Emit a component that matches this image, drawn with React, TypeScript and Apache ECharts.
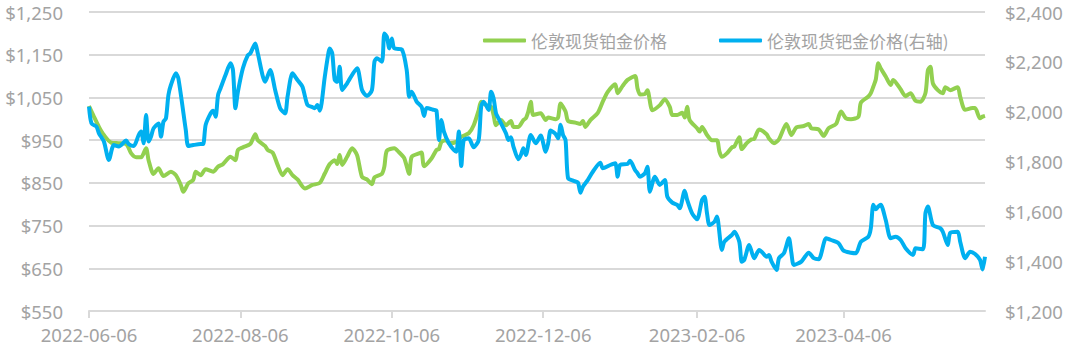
import React, { useEffect, useRef } from "react";
import * as echarts from "echarts";

// London spot platinum price (left axis), [date, USD/oz]
const platinum: [string, number][] = [
  ["2022-06-06", 1030], ["2022-06-08", 1005], ["2022-06-10", 981], ["2022-06-12", 962], ["2022-06-15", 944],
  ["2022-06-18", 943], ["2022-06-21", 941], ["2022-06-23", 919], ["2022-06-25", 910], ["2022-06-27", 910],
  ["2022-06-29", 931], ["2022-06-30", 903],
  ["2022-07-02", 871], ["2022-07-04", 884], ["2022-07-06", 866], ["2022-07-09", 876], ["2022-07-11", 868],
  ["2022-07-13", 845], ["2022-07-14", 829], ["2022-07-16", 849], ["2022-07-18", 857], ["2022-07-19", 876],
  ["2022-07-21", 868], ["2022-07-23", 882], ["2022-07-26", 876], ["2022-07-28", 888], ["2022-07-30", 894],
  ["2022-08-02", 911], ["2022-08-04", 903], ["2022-08-05", 927], ["2022-08-07", 933], ["2022-08-10", 941],
  ["2022-08-12", 964], ["2022-08-13", 950], ["2022-08-16", 936], ["2022-08-17", 927], ["2022-08-19", 921],
  ["2022-08-21", 892], ["2022-08-23", 868], ["2022-08-25", 882], ["2022-08-27", 868], ["2022-08-29", 858],
  ["2022-09-01", 837], ["2022-09-04", 845], ["2022-09-07", 850], ["2022-09-09", 872], ["2022-09-11", 894],
  ["2022-09-13", 903], ["2022-09-14", 894], ["2022-09-15", 915], ["2022-09-16", 892], ["2022-09-18", 911],
  ["2022-09-20", 931], ["2022-09-22", 915], ["2022-09-24", 864], ["2022-09-26", 858], ["2022-09-28", 847],
  ["2022-09-29", 863],
  ["2022-10-02", 871], ["2022-10-03", 888], ["2022-10-04", 925], ["2022-10-07", 931], ["2022-10-09", 921],
  ["2022-10-11", 908], ["2022-10-13", 871], ["2022-10-14", 911], ["2022-10-17", 919], ["2022-10-18", 921],
  ["2022-10-19", 889], ["2022-10-22", 907], ["2022-10-24", 927], ["2022-10-25", 929], ["2022-10-26", 946],
  ["2022-10-28", 950], ["2022-10-29", 943],
  ["2022-11-01", 946], ["2022-11-03", 958], ["2022-11-06", 966], ["2022-11-08", 985], ["2022-11-10", 1020],
  ["2022-11-11", 1040], ["2022-11-13", 1032], ["2022-11-15", 1028], ["2022-11-16", 1009], ["2022-11-17", 985],
  ["2022-11-19", 997], ["2022-11-21", 985], ["2022-11-23", 995], ["2022-11-24", 981], ["2022-11-26", 981],
  ["2022-11-28", 997], ["2022-11-29", 1001], ["2022-11-30", 1017],
  ["2022-12-01", 1040], ["2022-12-02", 1009], ["2022-12-05", 1013], ["2022-12-07", 997], ["2022-12-08", 1003],
  ["2022-12-11", 999], ["2022-12-12", 1003], ["2022-12-13", 1036], ["2022-12-15", 1017], ["2022-12-16", 995],
  ["2022-12-19", 991], ["2022-12-21", 988], ["2022-12-22", 995], ["2022-12-23", 981], ["2022-12-25", 997],
  ["2022-12-28", 1014], ["2022-12-30", 1040],
  ["2023-01-01", 1063], ["2023-01-04", 1081], ["2023-01-05", 1060], ["2023-01-07", 1077], ["2023-01-09", 1091],
  ["2023-01-12", 1100], ["2023-01-13", 1071], ["2023-01-14", 1057], ["2023-01-16", 1058], ["2023-01-17", 1067],
  ["2023-01-19", 1020], ["2023-01-22", 1032], ["2023-01-24", 1046], ["2023-01-26", 1028], ["2023-01-27", 1009],
  ["2023-01-29", 1009], ["2023-01-31", 1014],
  ["2023-02-01", 1003], ["2023-02-02", 1028], ["2023-02-03", 997], ["2023-02-06", 978], ["2023-02-07", 970],
  ["2023-02-08", 981], ["2023-02-10", 962], ["2023-02-12", 950], ["2023-02-14", 950], ["2023-02-15", 923],
  ["2023-02-16", 911], ["2023-02-18", 919], ["2023-02-20", 933], ["2023-02-21", 935], ["2023-02-23", 957],
  ["2023-02-24", 929], ["2023-02-26", 943], ["2023-02-28", 952],
  ["2023-03-01", 953], ["2023-03-03", 975], ["2023-03-06", 964], ["2023-03-07", 954], ["2023-03-09", 943],
  ["2023-03-11", 952], ["2023-03-14", 988], ["2023-03-16", 962], ["2023-03-18", 980], ["2023-03-21", 983],
  ["2023-03-23", 988], ["2023-03-24", 978], ["2023-03-27", 975], ["2023-03-29", 960], ["2023-03-31", 978],
  ["2023-04-03", 988], ["2023-04-05", 1017], ["2023-04-07", 1001], ["2023-04-09", 999], ["2023-04-12", 1005],
  ["2023-04-13", 1038], ["2023-04-16", 1052], ["2023-04-17", 1060], ["2023-04-18", 1075], ["2023-04-19", 1092],
  ["2023-04-20", 1130], ["2023-04-21", 1118], ["2023-04-23", 1099], ["2023-04-25", 1079], ["2023-04-26", 1091],
  ["2023-04-29", 1069],
  ["2023-05-01", 1053], ["2023-05-03", 1060], ["2023-05-05", 1042], ["2023-05-07", 1040], ["2023-05-09", 1060],
  ["2023-05-10", 1114], ["2023-05-11", 1122], ["2023-05-12", 1083], ["2023-05-14", 1067], ["2023-05-16", 1060],
  ["2023-05-17", 1074], ["2023-05-19", 1067], ["2023-05-22", 1074], ["2023-05-23", 1052], ["2023-05-25", 1021],
  ["2023-05-28", 1025], ["2023-05-29", 1025], ["2023-05-31", 1001],
  ["2023-06-01", 1005], ["2023-06-02", 1007],
];

// London spot palladium price (right axis), [date, USD/oz]
const palladium: [string, number][] = [
  ["2022-06-06", 2020], ["2022-06-07", 1953], ["2022-06-09", 1940], ["2022-06-10", 1913], ["2022-06-12", 1880],
  ["2022-06-14", 1806], ["2022-06-16", 1866], ["2022-06-18", 1860], ["2022-06-21", 1884], ["2022-06-22", 1870],
  ["2022-06-24", 1862], ["2022-06-26", 1906], ["2022-06-27", 1920], ["2022-06-28", 1873], ["2022-06-29", 1987],
  ["2022-06-30", 1880],
  ["2022-07-01", 1900], ["2022-07-02", 1933], ["2022-07-04", 1953], ["2022-07-05", 1900], ["2022-07-06", 1960],
  ["2022-07-07", 1973], ["2022-07-08", 2067], ["2022-07-09", 2107], ["2022-07-11", 2154], ["2022-07-12", 2134],
  ["2022-07-15", 1926], ["2022-07-16", 1862], ["2022-07-18", 1866], ["2022-07-21", 1870], ["2022-07-22", 1870],
  ["2022-07-23", 1947], ["2022-07-25", 1993], ["2022-07-26", 2004], ["2022-07-27", 1980], ["2022-07-28", 2067],
  ["2022-07-29", 2094], ["2022-07-31", 2147],
  ["2022-08-02", 2194], ["2022-08-03", 2167], ["2022-08-04", 2014], ["2022-08-05", 2080], ["2022-08-07", 2174],
  ["2022-08-09", 2227], ["2022-08-10", 2234], ["2022-08-12", 2274], ["2022-08-13", 2234], ["2022-08-16", 2120],
  ["2022-08-18", 2167], ["2022-08-20", 2087], ["2022-08-22", 2014], ["2022-08-24", 1993], ["2022-08-25", 2060],
  ["2022-08-27", 2154], ["2022-08-29", 2127], ["2022-08-31", 2100],
  ["2022-09-02", 2027], ["2022-09-04", 2018], ["2022-09-05", 2014], ["2022-09-06", 2027], ["2022-09-07", 2004],
  ["2022-09-09", 2140], ["2022-09-10", 2207], ["2022-09-11", 2254], ["2022-09-12", 2234], ["2022-09-13", 2127],
  ["2022-09-14", 2120], ["2022-09-15", 2180], ["2022-09-16", 2087], ["2022-09-18", 2114], ["2022-09-22", 2174],
  ["2022-09-24", 2087], ["2022-09-26", 2063], ["2022-09-28", 2087], ["2022-09-29", 2200], ["2022-09-30", 2214],
  ["2022-10-02", 2200], ["2022-10-03", 2314], ["2022-10-04", 2301], ["2022-10-05", 2254], ["2022-10-06", 2294],
  ["2022-10-07", 2254], ["2022-10-10", 2250], ["2022-10-12", 2167], ["2022-10-13", 2060], ["2022-10-14", 2080],
  ["2022-10-16", 2040], ["2022-10-18", 2019], ["2022-10-19", 1983], ["2022-10-20", 2015], ["2022-10-23", 2007],
  ["2022-10-24", 2004], ["2022-10-25", 1886], ["2022-10-26", 1967], ["2022-10-27", 1920], ["2022-10-29", 1873],
  ["2022-10-31", 1846],
  ["2022-11-01", 1839], ["2022-11-02", 1920], ["2022-11-03", 1782], ["2022-11-04", 1886], ["2022-11-06", 1893],
  ["2022-11-08", 1857], ["2022-11-10", 1886], ["2022-11-11", 2020], ["2022-11-12", 2040], ["2022-11-14", 2007],
  ["2022-11-15", 2080], ["2022-11-16", 2054], ["2022-11-17", 1993], ["2022-11-18", 1973], ["2022-11-21", 1913],
  ["2022-11-22", 1886], ["2022-11-23", 1897], ["2022-11-24", 1860], ["2022-11-26", 1809], ["2022-11-27", 1826],
  ["2022-11-28", 1853], ["2022-11-29", 1826],
  ["2022-12-01", 1906], ["2022-12-03", 1873], ["2022-12-05", 1904], ["2022-12-07", 1839], ["2022-12-08", 1873],
  ["2022-12-09", 1924], ["2022-12-11", 1910], ["2022-12-12", 1893], ["2022-12-13", 1947], ["2022-12-14", 1906],
  ["2022-12-15", 1886], ["2022-12-16", 1733], ["2022-12-18", 1723], ["2022-12-20", 1715], ["2022-12-21", 1675],
  ["2022-12-22", 1699], ["2022-12-24", 1726], ["2022-12-26", 1759], ["2022-12-29", 1795], ["2022-12-30", 1773],
  ["2023-01-02", 1786], ["2023-01-04", 1793], ["2023-01-05", 1739], ["2023-01-06", 1786], ["2023-01-09", 1790],
  ["2023-01-10", 1803], ["2023-01-12", 1766], ["2023-01-13", 1753], ["2023-01-14", 1739], ["2023-01-16", 1753],
  ["2023-01-17", 1779], ["2023-01-18", 1679], ["2023-01-20", 1739], ["2023-01-22", 1706], ["2023-01-24", 1726],
  ["2023-01-25", 1659], ["2023-01-27", 1635], ["2023-01-29", 1626], ["2023-01-30", 1612],
  ["2023-02-01", 1683], ["2023-02-02", 1646], ["2023-02-04", 1592], ["2023-02-06", 1568], ["2023-02-08", 1646],
  ["2023-02-09", 1659], ["2023-02-10", 1592], ["2023-02-11", 1545], ["2023-02-13", 1558], ["2023-02-14", 1579],
  ["2023-02-16", 1445], ["2023-02-17", 1478], ["2023-02-20", 1505], ["2023-02-21", 1518], ["2023-02-23", 1478],
  ["2023-02-24", 1398], ["2023-02-25", 1405], ["2023-02-27", 1465],
  ["2023-03-01", 1412], ["2023-03-03", 1445], ["2023-03-04", 1438], ["2023-03-06", 1418], ["2023-03-07", 1425],
  ["2023-03-08", 1398], ["2023-03-10", 1365], ["2023-03-11", 1412], ["2023-03-13", 1432], ["2023-03-15", 1492],
  ["2023-03-16", 1432], ["2023-03-17", 1385], ["2023-03-20", 1398], ["2023-03-23", 1434], ["2023-03-25", 1412],
  ["2023-03-27", 1408], ["2023-03-30", 1492],
  ["2023-04-01", 1485], ["2023-04-04", 1472], ["2023-04-06", 1442], ["2023-04-09", 1434], ["2023-04-11", 1432],
  ["2023-04-13", 1478], ["2023-04-16", 1498], ["2023-04-17", 1532], ["2023-04-18", 1626], ["2023-04-19", 1608],
  ["2023-04-20", 1619], ["2023-04-21", 1626], ["2023-04-23", 1565], ["2023-04-25", 1492], ["2023-04-27", 1498],
  ["2023-04-29", 1485],
  ["2023-05-01", 1452], ["2023-05-04", 1425], ["2023-05-05", 1452], ["2023-05-08", 1448], ["2023-05-09", 1592],
  ["2023-05-10", 1619], ["2023-05-12", 1545], ["2023-05-15", 1532], ["2023-05-16", 1518], ["2023-05-18", 1465],
  ["2023-05-19", 1514], ["2023-05-22", 1518], ["2023-05-23", 1478], ["2023-05-25", 1412], ["2023-05-27", 1438],
  ["2023-05-29", 1429], ["2023-05-31", 1405],
  ["2023-06-01", 1367], ["2023-06-02", 1418],
];

const seriesNames = ["伦敦现货铂金价格", "伦敦现货钯金价格(右轴)"];
const tickLabels = ["2022-06-06", "2022-08-06", "2022-10-06", "2022-12-06", "2023-02-06", "2023-04-06"];
const startDate = "2022-06-06";
const endDate = "2023-06-02";
const leftAxis = { min: 550, max: 1250, interval: 100 };
const rightAxis = { min: 1200, max: 2400, interval: 200 };

function buildDays(start: string, end: string): string[] {
  const out: string[] = [];
  const [sy, sm, sd] = start.split("-").map(Number);
  const [ey, em, ed] = end.split("-").map(Number);
  let t = Date.UTC(sy, sm - 1, sd);
  const tEnd = Date.UTC(ey, em - 1, ed);
  while (t <= tEnd) {
    out.push(new Date(t).toISOString().slice(0, 10));
    t += 86400000;
  }
  return out;
}

const GREEN = "#92d050";
const BLUE = "#00b0f0";
const LABEL = "#a3a3a3";
const GRID = "#d9d9d9";
const FONT = "'Noto Sans', 'Noto Sans CJK SC', sans-serif";

const money = (v: number) => "$" + v.toLocaleString("en-US");

export default function App() {
  const ref = useRef<HTMLDivElement>(null);
  useEffect(() => {
    if (!ref.current) return;
    const chart = echarts.init(ref.current, undefined, { renderer: "svg" });
    const days = buildDays(startDate, endDate);
    const showLabel = (_i: number, v: string) => tickLabels.includes(v);
    chart.setOption({
      animation: false,
      grid: { left: 89, right: 87, top: 12, bottom: 44 },
      legend: {
        data: seriesNames,
        left: 478,
        top: 27,
        icon: "roundRect",
        itemWidth: 43,
        itemHeight: 4,
        itemGap: 52,
        textStyle: { color: LABEL, fontSize: 17, fontFamily: "'Noto Sans CJK SC', sans-serif" },
      },
      xAxis: {
        type: "category",
        data: days,
        boundaryGap: false,
        axisLine: { lineStyle: { color: GRID, width: 2 } },
        axisTick: { show: true, interval: showLabel, length: 7, lineStyle: { color: GRID, width: 2 } },
        axisLabel: { interval: showLabel, color: LABEL, fontSize: 18.5, fontFamily: FONT, margin: 14 },
        splitLine: { show: false },
      },
      yAxis: [
        {
          type: "value",
          ...leftAxis,
          axisLine: { show: false },
          axisTick: { show: false },
          axisLabel: { color: LABEL, fontSize: 18.5, fontFamily: FONT, margin: 26, formatter: money },
          splitLine: { lineStyle: { color: GRID, width: 2 } },
        },
        {
          type: "value",
          ...rightAxis,
          position: "right",
          axisLine: { show: false },
          axisTick: { show: false },
          axisLabel: { color: LABEL, fontSize: 18.5, fontFamily: FONT, margin: 20, formatter: money },
          splitLine: { show: false },
        },
      ],
      series: [
        {
          name: seriesNames[0],
          type: "line",
          yAxisIndex: 0,
          data: platinum,
          showSymbol: false,
          smooth: 0.25,
          lineStyle: { color: GREEN, width: 4 },
          itemStyle: { color: GREEN },
          z: 2,
        },
        {
          name: seriesNames[1],
          type: "line",
          yAxisIndex: 1,
          data: palladium,
          showSymbol: false,
          smooth: 0.25,
          lineStyle: { color: BLUE, width: 4 },
          itemStyle: { color: BLUE },
          z: 3,
        },
      ],
    });
    return () => chart.dispose();
  }, []);
  return (
    <div
      ref={ref}
      style={{ position: "absolute", left: 0, top: 0, width: 1072, height: 355 }}
    />
  );
}
